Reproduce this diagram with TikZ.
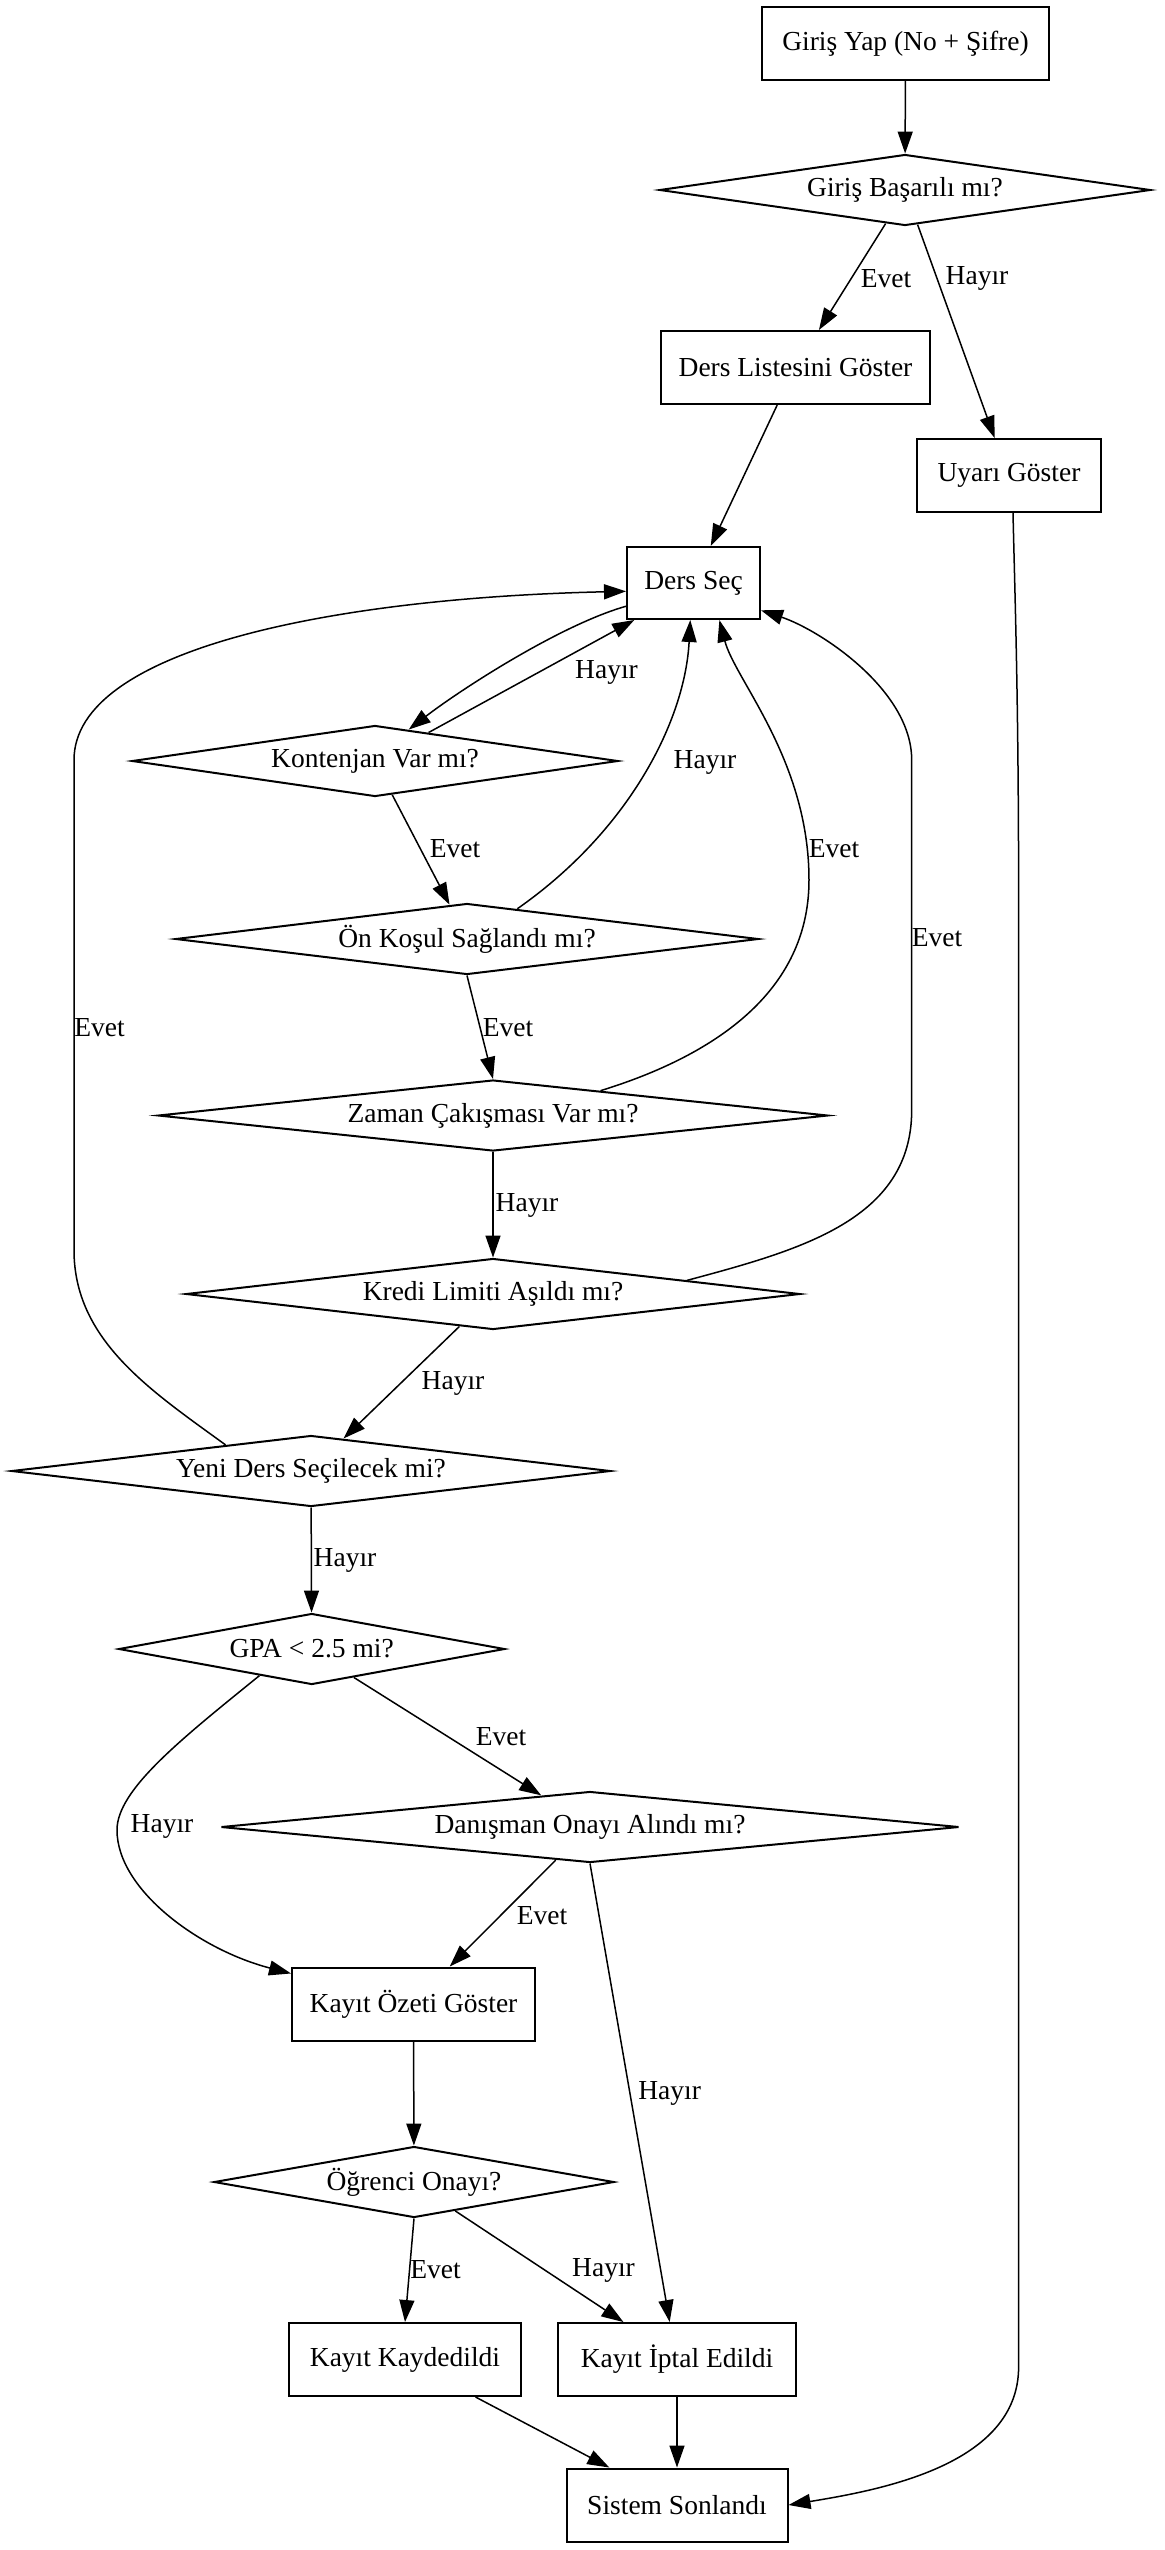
\documentclass[tikz,border=0pt]{standalone}
\usepackage{fontspec}
\setmainfont{Liberation Serif}
\usetikzlibrary{shapes.geometric,arrows.meta}
\begin{document}
\begin{tikzpicture}[x=0.5pt,y=-0.5pt,
  every node/.style={font=\fontsize{13.75}{16}\selectfont},
  box/.style={draw, line width=1pt, rectangle, minimum height=36.5pt, inner sep=0pt},
  dec/.style={draw, line width=1pt, diamond, minimum height=35.5pt, inner sep=0pt},
  lbl/.style={inner sep=0pt},
  arr/.style={line width=0.75pt, -{Triangle[length=11pt,width=7.5pt]}}]
\useasboundingbox (0,0) rectangle (1164,2550);

% process boxes and decisions
\node[box, minimum width=143.5pt] (giris) at (905.5,43.5) {Giriş Yap (No + Şifre)};
\node[dec, minimum width=245.5pt, shape aspect=6.93] (basarili) at (905,190) {Giriş Başarılı mı?};
\node[box, minimum width=134.5pt] (liste) at (795.5,367.5) {Ders Listesini Göster};
\node[box, minimum width=92pt] (uyari) at (1009,475.5) {Uyarı Göster};
\node[box, minimum width=66.5pt, minimum height=36pt] (dersec) at (693.5,583) {Ders Seç};
\node[dec, minimum width=243pt, shape aspect=6.86] (kontenjan) at (375,761) {Kontenjan Var mı?};
\node[dec, minimum width=291.5pt, shape aspect=8.2] (onkosul) at (467,939) {Ön Koşul Sağlandı mı?};
\node[dec, minimum width=335pt, shape aspect=9.4] (zaman) at (493,1115.5) {Zaman Çakışması Var mı?};
\node[dec, minimum width=307pt, shape aspect=8.6] (kredi) at (493,1294) {Kredi Limiti Aşıldı mı?};
\node[dec, minimum width=299.5pt, shape aspect=8.4] (yeni) at (311,1471) {Yeni Ders Seçilecek mi?};
\node[dec, minimum width=193pt, shape aspect=5.5] (gpa) at (311.7,1649) {GPA < 2.5 mi?};
\node[dec, minimum width=369pt, shape aspect=10.4] (danisman) at (590,1827) {Danışman Onayı Alındı mı?};
\node[box, minimum width=121.5pt] (ozet) at (413.5,2004) {Kayıt Özeti Göster};
\node[dec, minimum width=200pt, shape aspect=5.7] (ogrenci) at (414,2182) {Öğrenci Onayı?};
\node[box, minimum width=115.75pt] (kaydedildi) at (405,2359.5) {Kayıt Kaydedildi};
\node[box, minimum width=119.3pt] (iptal) at (677,2359.5) {Kayıt İptal Edildi};
\node[box, minimum width=110.5pt] (sistem) at (677,2505) {Sistem Sonlandı};

% connectors
\draw[arr] (giris) -- (basarili);
\draw[arr] (basarili.240) -- (liste.58);
\draw[arr] (basarili.290) -- (uyari.111);
\draw[arr] (liste.244) -- (dersec.65);
\draw[arr] ([xshift=2pt]uyari.south) .. controls (1015,600) and (1018.6,700) .. (1018.6,900)
  -- (1018.6,2367) .. controls (1018.6,2465) and (880,2490) .. (sistem.east);
\draw[arr] (dersec.199) .. controls (560,625) and (460,690) .. (kontenjan.43);
\draw[arr] (kontenjan.28) -- (dersec.212);
\draw[arr] (kontenjan.297) -- (onkosul.117);
\draw[arr] (onkosul.31) .. controls (630,830) and (685,720) .. (dersec.265);
\draw[arr] (zaman.13) .. controls (700,1060) and (809,1000) .. (809,880)
  .. controls (809,760) and (735,680) .. (dersec.305);
\draw[arr] (kredi.4) .. controls (800,1250) and (911.7,1220) .. (911.7,1110)
  -- (911.7,760) .. controls (911.7,690) and (820,630) .. (dersec.338);
\draw[arr] (onkosul.south) -- (zaman.north);
\draw[arr] (zaman) -- (kredi);
\draw[arr] (kredi.224) -- (yeni.45);
\draw[arr] (yeni.163) .. controls (150,1390) and (74,1340) .. (74,1250)
  -- (74,760) .. controls (74,650) and (330,598) .. (dersec.187);
\draw[arr] (yeni) -- (gpa);
\draw[arr] (gpa.326) -- (danisman.147);
\draw[arr] (gpa.207) .. controls (180,1740) and (117,1790) .. (117,1830)
  .. controls (117,1890) and (200,1950) .. (ozet.166);
\draw[arr] (danisman.224) -- (ozet.46);
\draw[arr] (danisman.south) -- (iptal.101);
\draw[arr] (ozet) -- (ogrenci);
\draw[arr] (ogrenci.south) -- (kaydedildi.north);
\draw[arr] (ogrenci.325) -- (iptal.145);
\draw[arr] (kaydedildi.332) -- (sistem.151);
\draw[arr] (iptal) -- (sistem);

% connector labels
\node[lbl] (l1) at (886,278.6) {Evet};
\node[lbl] (l2) at (977,278.6) {Hayır};
\node[lbl] (l3) at (606.5,672) {Hayır};
\node[lbl] (l4) at (705,762) {Hayır};
\node[lbl] (l5) at (455,849) {Evet};
\node[lbl] (l6) at (834,849) {Evet};
\node[lbl] (l7) at (937,938) {Evet};
\node[lbl] (l8) at (99.5,1027.5) {Evet};
\node[lbl] (l9) at (508,1027.5) {Evet};
\node[lbl] (l10) at (527,1205) {Hayır};
\node[lbl] (l11) at (453,1383) {Hayır};
\node[lbl] (l12) at (345,1560) {Hayır};
\node[lbl] (l13) at (501,1737) {Evet};
\node[lbl] (l14) at (162,1826) {Hayır};
\node[lbl] (l15) at (542,1915.5) {Evet};
\node[lbl] (l16) at (669.6,2093) {Hayır};
\node[lbl] (l17) at (435.5,2270) {Evet};
\node[lbl] (l18) at (603.5,2270) {Hayır};
\end{tikzpicture}
\end{document}
